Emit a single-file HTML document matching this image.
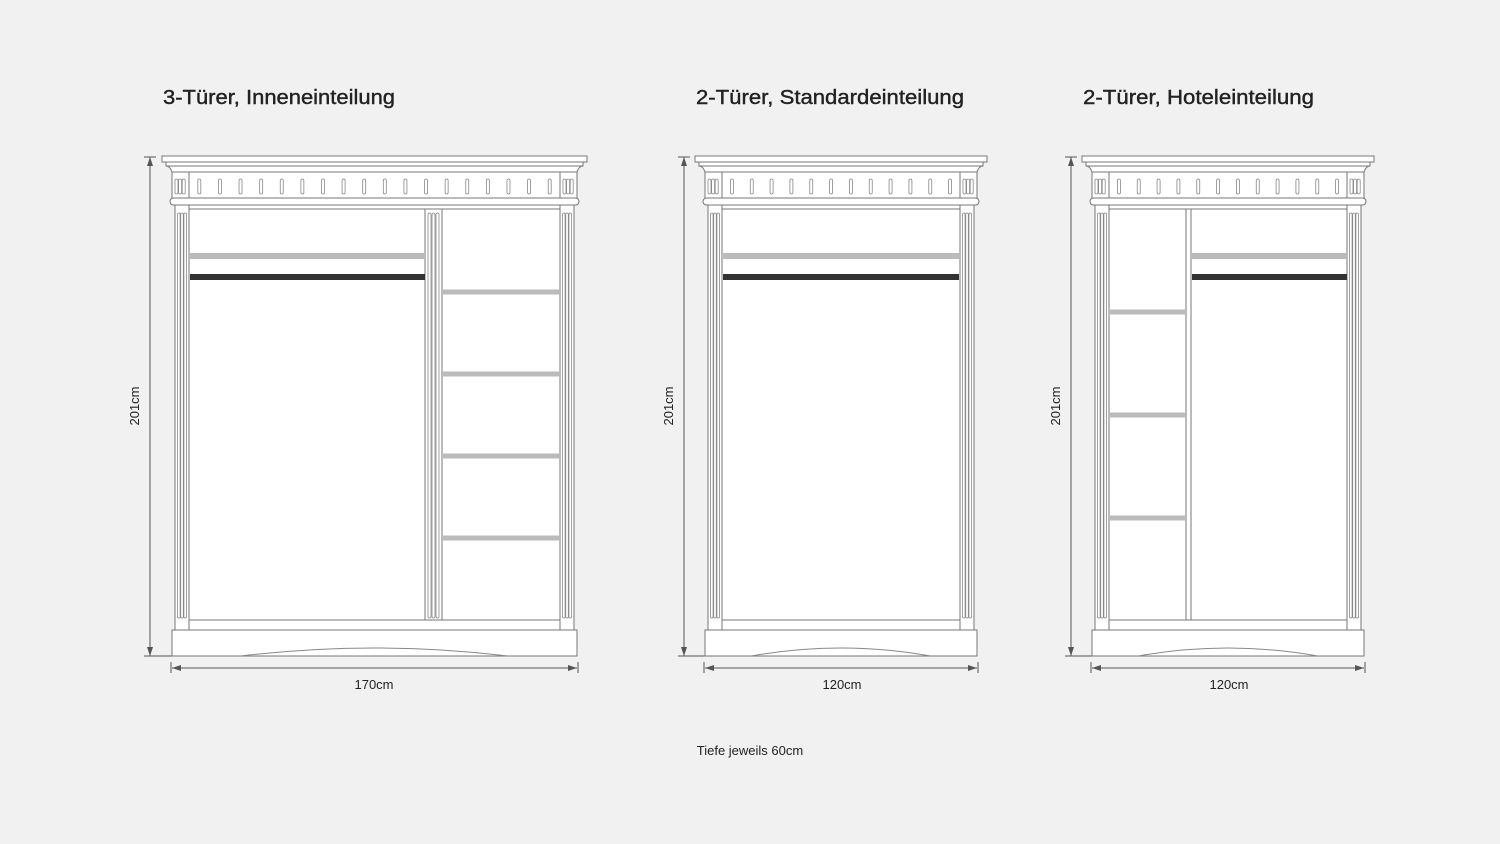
<!DOCTYPE html>
<html><head><meta charset="utf-8"><style>
html,body{margin:0;padding:0;background:#f1f1f1;}
svg{display:block;}
text{font-family:"Liberation Sans",sans-serif;fill:#222;}
</style></head><body>
<svg id="s" width="1500" height="844" viewBox="0 0 1500 844" xmlns="http://www.w3.org/2000/svg">
<rect width="1500" height="844" fill="#f1f1f1"/>
<g id="g"></g>
<text x="163" y="104" font-size="20" textLength="232" lengthAdjust="spacingAndGlyphs" stroke="#222" stroke-width="0.4">3-Türer, Inneneinteilung</text>
<text x="696" y="104" font-size="20" textLength="268" lengthAdjust="spacingAndGlyphs" stroke="#222" stroke-width="0.4">2-Türer, Standardeinteilung</text>
<text x="1083" y="104" font-size="20" textLength="231" lengthAdjust="spacingAndGlyphs" stroke="#222" stroke-width="0.4">2-Türer, Hoteleinteilung</text>
<text x="374" y="689" font-size="13" text-anchor="middle">170cm</text>
<text x="842" y="689" font-size="13" text-anchor="middle">120cm</text>
<text x="1229" y="689" font-size="13" text-anchor="middle">120cm</text>
<text transform="translate(139,406) rotate(-90)" font-size="13" text-anchor="middle">201cm</text>
<text transform="translate(673,406) rotate(-90)" font-size="13" text-anchor="middle">201cm</text>
<text transform="translate(1060,406) rotate(-90)" font-size="13" text-anchor="middle">201cm</text>
<text x="750" y="755" font-size="13" text-anchor="middle">Tiefe jeweils 60cm</text>
</svg>
<script>
var g=document.getElementById('g'),h='';
function R(x,y,w,hh,f,s){h+='<rect x="'+x+'" y="'+y+'" width="'+w+'" height="'+hh+'" fill="'+(f||'#fff')+'" stroke="'+(s||'#777')+'" stroke-width="1"/>';}
function L(x1,y1,x2,y2,c,w){h+='<line x1="'+x1+'" y1="'+y1+'" x2="'+x2+'" y2="'+y2+'" stroke="'+(c||'#777')+'" stroke-width="'+(w||1)+'"/>';}
function pil(x){R(x,205,14,425);for(var i=0;i<3;i++){h+='<rect x="'+(x+2.5+i*3.2)+'" y="213" width="2.6" height="405" rx="1.3" fill="#fff" stroke="#888" stroke-width="0.8"/>';}}
function ward(x0,x1,dimX){
 var w=x1-x0;
 // dims
 L(dimX,157,dimX,656,'#555');L(dimX-6,157,dimX+6,157,'#555');L(dimX-6,656,x0,656,'#555');
 h+='<path d="M'+dimX+' 157 l-3 9 h6z M'+dimX+' 656 l-3 -9 h6z" fill="#555"/>';
 L(x0,668,x1,668,'#555');L(x0-1,662,x0-1,673,'#555');L(x1+1,662,x1+1,673,'#555');
 h+='<path d="M'+x0+' 668 l9 -3 v6z M'+x1+' 668 l-9 -3 v6z" fill="#555"/>';
 // cornice
 R(x0-10,156,w+20,6);R(x0-6,162,w+12,4);
 h+='<path d="M'+(x0-6)+' 166 q4 0 6 6 L'+(x1)+' 172 q2 -6 6 -6z" fill="#fff" stroke="#777"/>';
 R(x0,172,w,27);R(x0+17,172,w-34,27);
 // dentils
 var n=Math.round((w-34)/20.6),st=(w-34)/n;
 for(var i=0;i<n;i++){h+='<rect x="'+(x0+17+st*(i+0.5)-1.5)+'" y="179" width="3" height="15" rx="1.5" fill="#fff" stroke="#888" stroke-width="0.8"/>';}
 [x0+3,x1-14].forEach(function(xx){for(var k=0;k<3;k++)h+='<rect x="'+(xx+k*3.6)+'" y="179" width="3" height="15" rx="1.5" fill="#fff" stroke="#888" stroke-width="0.8"/>';});
 h+='<rect x="'+(x0-2)+'" y="198" width="'+(w+4)+'" height="7" rx="3.5" fill="#fff" stroke="#777"/>';
 // body
 R(x0+3,205,w-6,425);R(x0+17,209,w-34,411);
 R(x0+17,620,w-34,10);
 pil(x0+3);pil(x1-17);
 // plinth
 R(x0,630,w,26);
 h+='<path d="M'+(x0+w*0.17)+' 656 Q'+(x0+w/2)+' 640 '+(x1-w*0.17)+' 656" fill="none" stroke="#888"/>';
}
function rails(a,b){h+='<rect x="'+a+'" y="253" width="'+(b-a)+'" height="6" fill="#bbb"/>';h+='<rect x="'+a+'" y="274" width="'+(b-a)+'" height="6" fill="#333"/>';}
function shelf(a,b,y){h+='<rect x="'+a+'" y="'+(y-2.5)+'" width="'+(b-a)+'" height="5" fill="#bbb"/>';}
ward(172,577,150);
// middle pilaster
R(425,209,17,411);for(var i=0;i<3;i++)h+='<rect x="'+(428+i*4)+'" y="213" width="3" height="405" rx="1.5" fill="#fff" stroke="#888" stroke-width="0.8"/>';
rails(190,425);[292,374,456,538].forEach(function(y){shelf(443,559,y)});
ward(705,977,684);rails(723,959);
ward(1092,1364,1071);
R(1186,209,5,411);rails(1192,1347);[312,415,518].forEach(function(y){shelf(1110,1186,y)});
g.innerHTML=h;
</script>
</body></html>
